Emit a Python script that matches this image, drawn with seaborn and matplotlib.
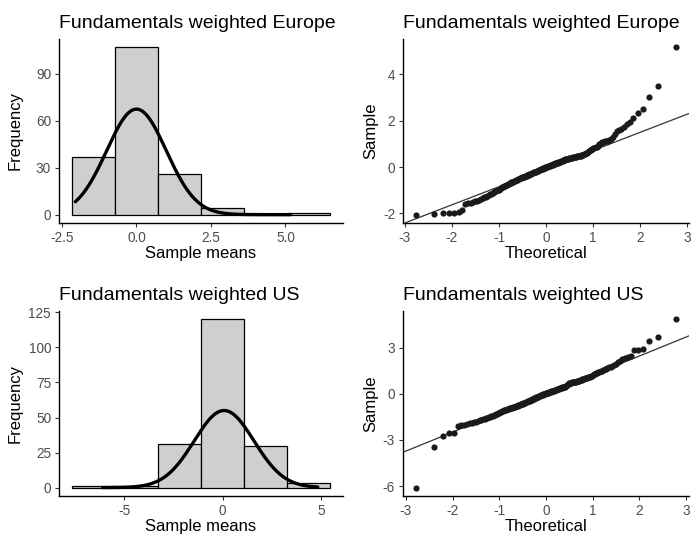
import numpy as np
import pandas as pd
import matplotlib
matplotlib.use("Agg")
import matplotlib.pyplot as plt
import seaborn as sns
from statistics import NormalDist

# ---------------- data (sorted sample means) ----------------
europe_values = [
    -2.05, -2.04, -2.00, -1.99, -1.97, -1.94, -1.86, -1.57,
    -1.55, -1.53, -1.50, -1.48, -1.45, -1.40, -1.37, -1.34, -1.31, -1.28,
    -1.24, -1.20, -1.17, -1.15, -1.12, -1.08, -1.05, -1.03, -1.00, -0.97,
    -0.93, -0.89, -0.86, -0.84, -0.82, -0.80, -0.78, -0.76, -0.74,
    -0.71, -0.70, -0.68, -0.66, -0.64, -0.62, -0.60, -0.58,
    -0.57, -0.55, -0.54, -0.52, -0.50, -0.49, -0.47, -0.46, -0.44, -0.43,
    -0.42, -0.41, -0.40, -0.38, -0.37,
    -0.36, -0.34, -0.33, -0.31, -0.30, -0.29, -0.27, -0.26, -0.24, -0.23,
    -0.22, -0.20, -0.19, -0.18, -0.17,
    -0.15, -0.14, -0.13, -0.11, -0.10, -0.09, -0.08, -0.06, -0.05, -0.04,
    -0.03, -0.01, 0.00,
    0.01, 0.02, 0.03, 0.05, 0.06, 0.07, 0.08, 0.09, 0.10, 0.11, 0.13, 0.14,
    0.15, 0.16, 0.17, 0.18, 0.19, 0.21, 0.22, 0.23, 0.24, 0.25, 0.27, 0.28,
    0.29, 0.30, 0.32,
    0.33, 0.34, 0.35, 0.36, 0.37, 0.38, 0.39, 0.40, 0.40, 0.41, 0.42, 0.43,
    0.44, 0.44, 0.45,
    0.46, 0.47, 0.48, 0.49, 0.50, 0.51, 0.52, 0.53, 0.55, 0.57, 0.60, 0.63,
    0.66, 0.70,
    0.73, 0.76, 0.79, 0.81, 0.83, 0.85, 0.88, 0.93, 0.98, 1.03, 1.07, 1.09,
    1.11, 1.12, 1.14, 1.17, 1.22, 1.30, 1.42, 1.55, 1.62, 1.66, 1.72, 1.85,
    1.93, 2.10,
    2.33, 2.52, 3.03, 3.52, 5.17,
]

us_values = [
    -6.10, -3.45, -2.75, -2.55, -2.52, -2.12,
    -2.05, -2.00, -1.96, -1.92, -1.88, -1.84, -1.80, -1.76, -1.72, -1.69,
    -1.66, -1.62, -1.58, -1.55, -1.52, -1.48, -1.45, -1.42, -1.39, -1.36,
    -1.33, -1.30, -1.27, -1.23, -1.19, -1.16, -1.12,
    -1.09, -1.07, -1.05, -1.03, -1.01, -0.99, -0.97,
    -0.95, -0.93, -0.91, -0.90, -0.88, -0.86, -0.85,
    -0.83, -0.81, -0.79, -0.77, -0.75, -0.73, -0.71, -0.69, -0.67, -0.65,
    -0.63, -0.61, -0.59,
    -0.57, -0.55, -0.53, -0.51, -0.49, -0.47, -0.45, -0.43, -0.41, -0.39,
    -0.37, -0.35, -0.33, -0.31, -0.29,
    -0.27, -0.25, -0.23, -0.21, -0.19, -0.17, -0.15, -0.13, -0.11, -0.09,
    -0.08, -0.06, -0.05, -0.03, -0.02, 0.00, 0.01, 0.03,
    0.04, 0.06, 0.07, 0.09, 0.10, 0.12, 0.13, 0.15, 0.16, 0.18, 0.19, 0.21,
    0.22, 0.24, 0.25, 0.27, 0.28,
    0.30, 0.32, 0.33, 0.35, 0.37, 0.38, 0.40, 0.41, 0.43, 0.44, 0.46, 0.47,
    0.48, 0.49, 0.50,
    0.56, 0.62, 0.66, 0.69, 0.71, 0.72, 0.74, 0.75, 0.76, 0.77, 0.78, 0.79,
    0.80, 0.81, 0.83,
    0.85, 0.87, 0.89, 0.91, 0.93, 0.95, 0.97, 0.99, 1.01, 1.03, 1.05, 1.07,
    1.09,
    1.12, 1.15, 1.19, 1.23, 1.27, 1.30, 1.33, 1.37, 1.40, 1.44, 1.48, 1.52,
    1.56, 1.60, 1.64, 1.68, 1.73, 1.78, 1.84, 1.90, 1.96, 2.05, 2.15, 2.25,
    2.35, 2.40, 2.45,
    2.84, 2.85, 2.95, 3.42, 3.70, 4.85,
]

titles = ["Fundamentals weighted Europe", "Fundamentals weighted US"]

# fitted normal curve drawn over each histogram (mean, sd, peak height)
europe_curve = {"mean": 0.0, "sd": 1.0, "peak": 67.5}
us_curve = {"mean": 0.08, "sd": 1.52, "peak": 55.0}

n_bins = 6

europe_hist_xticks = [-2.5, 0.0, 2.5, 5.0]
europe_hist_xticklabels = ["-2.5", "0.0", "2.5", "5.0"]
europe_hist_yticks = [0, 30, 60, 90]
us_hist_xticks = [-5, 0, 5]
us_hist_yticks = [0, 25, 50, 75, 100, 125]
qq_xticks = [-3, -2, -1, 0, 1, 2, 3]
europe_qq_yticks = [-2, 0, 2, 4]
us_qq_yticks = [-6, -3, 0, 3]

# ---------------- style ----------------
sns.set_style("white")
plt.rcParams["font.family"] = ["Liberation Sans", "DejaVu Sans"]
plt.rcParams["axes.unicode_minus"] = False
plt.rcParams["text.color"] = "black"
plt.rcParams["axes.labelcolor"] = "black"

TITLE_FS = 14.0
LABEL_FS = 12.0
TICK_FS = 9.8
TICK_COLOR = "#4D4D4D"

W, H = 692, 539
fig = plt.figure(figsize=(W / 100, H / 100), dpi=100)


def add_ax(x0, y0, x1, y1):
    return fig.add_axes([x0 / W, 1 - y1 / H, (x1 - x0) / W, (y1 - y0) / H])


def style(ax):
    for s in ["top", "right"]:
        ax.spines[s].set_visible(False)
    for s in ["left", "bottom"]:
        ax.spines[s].set_linewidth(1.0)
        ax.spines[s].set_color("black")
    ax.tick_params(axis="both", length=3.2, width=0.8, color="#333333",
                   labelsize=TICK_FS, labelcolor=TICK_COLOR, pad=2.5,
                   direction="out", bottom=True, left=True)
    ax.grid(False)


def expand(lo, hi, mult=0.05):
    r = hi - lo
    return lo - r * mult, hi + r * mult


def gg_edges(vals, bins):
    lo, hi = min(vals), max(vals)
    w = (hi - lo) / (bins - 1)
    boundary = w / 2
    shift = np.floor((lo - boundary) / w)
    origin = boundary + shift * w
    edges = [origin]
    while edges[-1] <= hi:
        edges.append(edges[-1] + w)
    return np.array(edges)


def hist_panel(ax, vals, curve, title, xticks, xticklabels, yticks):
    edges = gg_edges(vals, n_bins)
    df = pd.DataFrame({"x": vals})
    sns.histplot(data=df, x="x", bins=edges, stat="count", ax=ax,
                 color="#CFCFCF", edgecolor="black", linewidth=0.9, alpha=1.0)
    counts, _ = np.histogram(vals, bins=edges)
    xs = np.linspace(min(vals), max(vals), 400)
    ys = curve["peak"] * np.exp(-0.5 * ((xs - curve["mean"]) / curve["sd"]) ** 2)
    sns.lineplot(x=xs, y=ys, ax=ax, color="black", linewidth=2.4, sort=False)
    ax.set_xlim(*expand(edges[0], edges[-1]))
    ax.set_ylim(*expand(0, max(counts.max(), ys.max())))
    ax.set_xticks(xticks)
    ax.set_xticklabels(xticklabels if xticklabels else [str(t) for t in xticks])
    ax.set_yticks(yticks)
    ax.set_yticklabels([str(t) for t in yticks])
    ax.set_xlabel("Sample means", fontsize=LABEL_FS, labelpad=0.5, color="black")
    ax.set_ylabel("Frequency", fontsize=LABEL_FS, color="black")
    ax.yaxis.set_label_coords(-0.128, 0.5)
    ax.set_title(title, loc="left", fontsize=TITLE_FS, pad=8, color="black")
    style(ax)


def qq_panel(ax, vals, title, yticks):
    vals = np.sort(np.asarray(vals))
    n = len(vals)
    nd = NormalDist()
    theo = np.array([nd.inv_cdf((i - 0.5) / n) for i in range(1, n + 1)])
    df = pd.DataFrame({"theoretical": theo, "sample": vals})
    sns.scatterplot(data=df, x="theoretical", y="sample", ax=ax, color="#1A1A1A",
                    s=20, linewidth=0, zorder=3)
    q1, q3 = np.quantile(vals, [0.25, 0.75])
    z1, z3 = nd.inv_cdf(0.25), nd.inv_cdf(0.75)
    slope = (q3 - q1) / (z3 - z1)
    intercept = q1 - slope * z1
    ax.axline((0, intercept), slope=slope, color="#333333", linewidth=0.9, zorder=2)
    ax.set_xlim(*expand(theo.min(), theo.max()))
    ax.set_ylim(*expand(vals.min(), vals.max()))
    ax.set_xticks(qq_xticks)
    ax.set_xticklabels([str(t) for t in qq_xticks])
    ax.set_yticks(yticks)
    ax.set_yticklabels([str(t) for t in yticks])
    ax.set_xlabel("Theoretical", fontsize=LABEL_FS, labelpad=0.5, color="black")
    ax.set_ylabel("Sample", fontsize=LABEL_FS, color="black")
    ax.yaxis.set_label_coords(-0.085, 0.5)
    ax.set_title(title, loc="left", fontsize=TITLE_FS, pad=8, color="black")
    style(ax)


ax1 = add_ax(59, 39, 343, 223)
ax2 = add_ax(403, 39, 689, 223)
ax3 = add_ax(59, 311, 343, 496)
ax4 = add_ax(403, 311, 689, 496)

hist_panel(ax1, europe_values, europe_curve, titles[0], europe_hist_xticks,
           europe_hist_xticklabels, europe_hist_yticks)
qq_panel(ax2, europe_values, titles[0], europe_qq_yticks)
hist_panel(ax3, us_values, us_curve, titles[1], us_hist_xticks, None, us_hist_yticks)
qq_panel(ax4, us_values, titles[1], us_qq_yticks)

fig.savefig("out.png", dpi=100, facecolor="white")
